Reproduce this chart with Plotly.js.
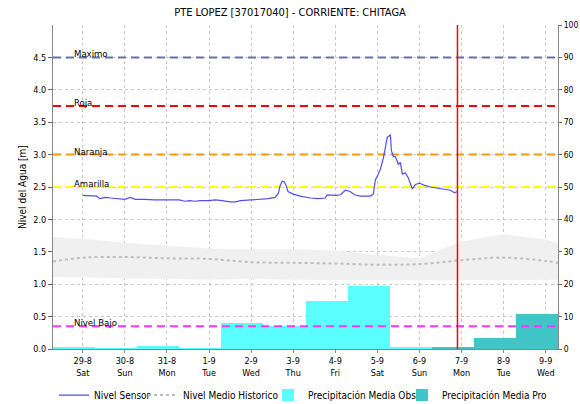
<!DOCTYPE html>
<html>
<head>
<meta charset="utf-8">
<script src="https://cdn.plot.ly/plotly-3.0.1.min.js"></script>
<style>html,body{margin:0;padding:0;background:#fff;}#chart{width:580px;height:404px;}</style>
</head>
<body>
<div id="chart"></div>
<script>
// ---- data ----
const chartTitle = 'PTE LOPEZ [37017040] - CORRIENTE: CHITAGA';
const yTitle = 'Nivel del Agua [m]';
const xRange = ['2020-08-28 07:00', '2020-09-09 07:00'];
const nowTime = '2020-09-06 21:40';

const tickDates = ['2020-08-29','2020-08-30','2020-08-31','2020-09-01','2020-09-02','2020-09-03','2020-09-04','2020-09-05','2020-09-06','2020-09-07','2020-09-08','2020-09-09'];
const tickLabels = ['29-8<br>Sat','30-8<br>Sun','31-8<br>Mon','1-9<br>Tue','2-9<br>Wed','3-9<br>Thu','4-9<br>Fri','5-9<br>Sat','6-9<br>Sun','7-9<br>Mon','8-9<br>Tue','9-9<br>Wed'];
const levelTicks = [0,0.5,1,1.5,2,2.5,3,3.5,4,4.5];

const sensorTime = ['2020-08-29 00:00','2020-08-29 04:00','2020-08-29 08:00','2020-08-29 09:30','2020-08-29 13:00','2020-08-29 16:00','2020-08-29 20:00',
 '2020-08-30 00:00','2020-08-30 03:00','2020-08-30 06:00','2020-08-30 11:00','2020-08-30 17:00',
 '2020-08-31 00:00','2020-08-31 07:00','2020-08-31 10:00','2020-08-31 13:00','2020-08-31 16:00','2020-08-31 19:00',
 '2020-09-01 00:00','2020-09-01 03:30','2020-09-01 07:30','2020-09-01 12:00','2020-09-01 15:00','2020-09-01 18:00',
 '2020-09-02 00:00','2020-09-02 05:00','2020-09-02 09:40','2020-09-02 13:40','2020-09-02 15:30','2020-09-02 16:30','2020-09-02 17:40','2020-09-02 18:50','2020-09-02 20:00','2020-09-02 21:00',
 '2020-09-03 00:00','2020-09-03 04:00','2020-09-03 09:40','2020-09-03 14:15','2020-09-03 18:15','2020-09-03 19:20',
 '2020-09-04 00:00','2020-09-04 03:00','2020-09-04 05:40','2020-09-04 08:30','2020-09-04 10:50','2020-09-04 14:15','2020-09-04 20:00','2020-09-04 21:40','2020-09-04 22:50',
 '2020-09-05 00:00','2020-09-05 01:40','2020-09-05 03:25','2020-09-05 04:35','2020-09-05 05:40','2020-09-05 06:50','2020-09-05 07:25','2020-09-05 08:00','2020-09-05 09:05','2020-09-05 10:15','2020-09-05 11:55','2020-09-05 13:05','2020-09-05 14:15','2020-09-05 15:55','2020-09-05 17:40','2020-09-05 19:55','2020-09-05 21:40',
 '2020-09-06 00:00','2020-09-06 03:25','2020-09-06 06:20','2020-09-06 12:00','2020-09-06 17:40','2020-09-06 20:00','2020-09-06 21:40'];
const sensorLevel = [2.37,2.37,2.36,2.32,2.34,2.33,2.32,
 2.31,2.34,2.31,2.31,2.30,
 2.30,2.30,2.28,2.29,2.28,2.29,
 2.29,2.30,2.29,2.27,2.27,2.29,
 2.30,2.31,2.32,2.34,2.40,2.52,2.59,2.58,2.52,2.43,
 2.39,2.36,2.33,2.32,2.33,2.38,
 2.37,2.38,2.45,2.43,2.38,2.36,2.36,2.39,2.61,
 2.67,2.77,2.95,3.15,3.27,3.29,3.31,3.06,2.97,2.97,2.85,2.88,2.70,2.72,2.64,2.47,2.54,
 2.56,2.52,2.50,2.47,2.45,2.41,2.43];

const histTime = ['2020-08-28 07:00','2020-08-29','2020-08-30','2020-08-31','2020-09-01','2020-09-02','2020-09-03','2020-09-04','2020-09-05','2020-09-06','2020-09-07','2020-09-08','2020-09-09','2020-09-09 07:00'];
const histMedian = [1.35,1.41,1.42,1.40,1.39,1.34,1.33,1.32,1.30,1.31,1.37,1.41,1.36,1.33];
const histUpper  = [1.73,1.70,1.64,1.60,1.55,1.54,1.54,1.52,1.45,1.40,1.66,1.77,1.69,1.64];
const histLower  = [1.11,1.10,1.09,1.08,1.07,1.08,1.07,1.06,1.06,1.06,1.06,1.07,1.07,1.07];

const precipObsTime = ['2020-08-28 19:00','2020-08-29 19:00','2020-08-30 19:00','2020-08-31 19:00','2020-09-01 19:00','2020-09-02 19:00','2020-09-03 19:00','2020-09-04 19:00','2020-09-05 19:00'];
const precipObs = [0.6,0.3,1.0,0.3,7.9,7.2,14.7,19.5,0.6];
const precipProTime = ['2020-09-06 19:00','2020-09-07 19:00','2020-09-08 19:00'];
const precipPro = [0.6,3.4,10.8];

const thresholdNames = ['Maximo','Roja','Naranja','Amarilla','Nivel Bajo'];
const thresholdValues = [4.5,3.75,3.0,2.5,0.35];

const seriesNames = ['Nivel Sensor','Nivel Medio Historico','Precipitación Media Obs','Precipitación Media Pro'];

// ---- styles ----
const thresholdColors = ['#6670A8','#FF0000','#FF9900','#FFFF00','#FF33FF'];
const FONT = 'DejaVu Sans Condensed, Liberation Sans, Arial, sans-serif';
const DAY = 86400000;
const legendX = [54, 143, 268, 402];

const traces = [];
traces.push({type:'bar', x:precipObsTime, y:precipObs, width:DAY, name:seriesNames[2],
  marker:{color:'#5CFFFF', line:{width:0}}, xaxis:'x', yaxis:'y', hoverinfo:'skip', legend:'legend3'});
traces.push({type:'bar', x:precipProTime, y:precipPro, width:DAY, name:seriesNames[3],
  marker:{color:'#40C6C6', line:{width:0}}, xaxis:'x', yaxis:'y', hoverinfo:'skip', legend:'legend4'});
traces.push({type:'scatter', mode:'lines', x:histTime, y:histLower, yaxis:'y2', line:{width:0, color:'#F0F0F0'}, showlegend:false, hoverinfo:'skip'});
traces.push({type:'scatter', mode:'lines', x:histTime, y:histUpper, yaxis:'y2', fill:'tonexty', fillcolor:'#F0F0F0', line:{width:0, color:'#F0F0F0'}, showlegend:false, hoverinfo:'skip'});
thresholdNames.forEach((n,i)=>{
  traces.push({type:'scatter', mode:'lines', x:xRange, y:[thresholdValues[i],thresholdValues[i]], yaxis:'y2',
    line:{color:thresholdColors[i], width:2, dash:'8px,5px'}, showlegend:false, hoverinfo:'skip'});
});
traces.push({type:'scatter', mode:'lines', x:sensorTime, y:sensorLevel, yaxis:'y2', name:seriesNames[0],
  line:{color:'#5050F0', width:1.2}, legend:'legend'});
traces.push({type:'scatter', mode:'lines', x:histTime, y:histMedian, yaxis:'y2', name:seriesNames[1],
  line:{color:'#BDBDBD', width:2, dash:'dot', shape:'spline'}, legend:'legend2'});

const annotations = thresholdNames.map((n,i)=>({
  text:n, xref:'paper', yref:'y2', x:0.038, y:thresholdValues[i], xanchor:'left', yanchor:'bottom',
  yshift:-4, showarrow:false, font:{family:FONT, size:9.5, color:'#000'}
}));
annotations.push({text:yTitle, xref:'paper', yref:'paper', x:-0.0614, y:0.5, xanchor:'center', yanchor:'middle',
  textangle:-90, showarrow:false, font:{family:FONT, size:10, color:'#000'}});

function legendAt(px){
  return {orientation:'h', xref:'container', yref:'container', x:px/580, xanchor:'left', y:0.022, yanchor:'middle',
    font:{family:FONT, size:10, color:'#000'}, itemwidth:30, bgcolor:'rgba(0,0,0,0)'};
}

const layout = {
  width:580, height:404,
  margin:{l:53, r:22, t:25, b:55, autoexpand:false},
  paper_bgcolor:'#fff', plot_bgcolor:'#fff',
  font:{family:FONT, size:9, color:'#000'},
  title:{text:chartTitle, x:0.5, xanchor:'center', y:0.97, yanchor:'middle', font:{family:FONT, size:11, color:'#000'}},
  showlegend:true,
  legend:legendAt(legendX[0]), legend2:legendAt(legendX[1]), legend3:legendAt(legendX[2]), legend4:legendAt(legendX[3]),
  barmode:'overlay', bargap:0,
  xaxis:{type:'date', range:xRange, tickvals:tickDates, ticktext:tickLabels, tickmode:'array',
    showgrid:true, gridcolor:'#C8C8C8', griddash:'dot', gridwidth:1,
    showline:true, linecolor:'#888', ticks:'outside', ticklen:3, tickcolor:'#888',
    tickfont:{family:FONT, size:9}, zeroline:false, automargin:false},
  yaxis:{range:[0,100], side:'right', dtick:10, showgrid:false, zeroline:false,
    showline:true, linecolor:'#888', ticks:'outside', ticklen:3, tickcolor:'#666',
    tickfont:{family:FONT, size:8.5}, automargin:false},
  yaxis2:{range:[0,5], side:'left', overlaying:'y', tickmode:'array', tickvals:levelTicks, tickformat:'.1f',
    showgrid:true, gridcolor:'#C8C8C8', griddash:'dot', zeroline:false,
    showline:true, linecolor:'#888', ticks:'outside', ticklen:4, tickcolor:'#666',
    tickfont:{family:FONT, size:9}, automargin:false},
  shapes:[{type:'line', xref:'x', yref:'paper', x0:nowTime, x1:nowTime, y0:0, y1:1, line:{color:'#FF0000', width:1.5}, layer:'above'}],
  annotations:annotations
};

Plotly.newPlot('chart', traces, layout, {displayModeBar:false, staticPlot:true});
</script>
</body>
</html>
